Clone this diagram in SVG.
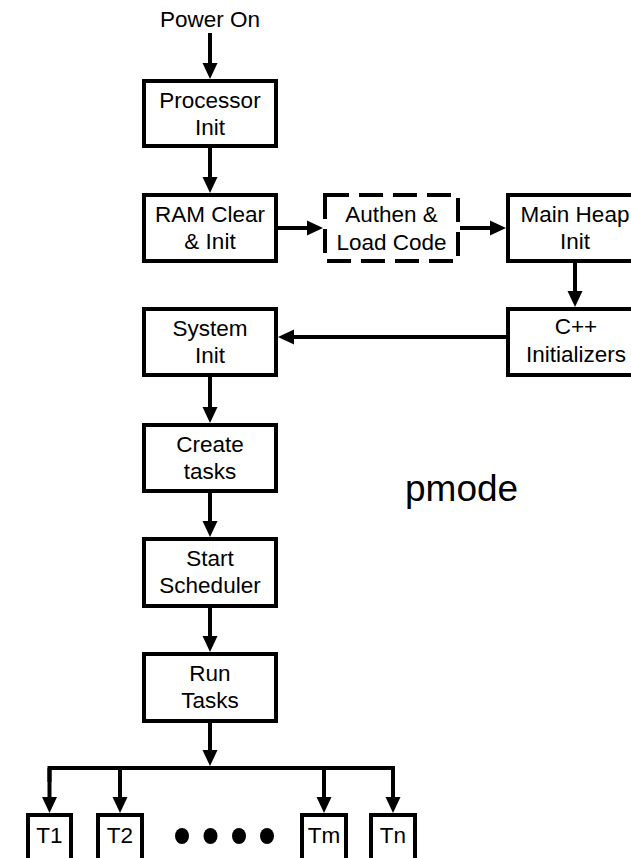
<svg xmlns="http://www.w3.org/2000/svg" width="631" height="858" viewBox="0 0 631 858">
  <style>
    .box { fill: #ffffff; stroke: #000000; stroke-width: 4; }
    .dash { fill: #ffffff; stroke: #000000; stroke-width: 4; stroke-dasharray: 24 10; }
    .lbl { font-family: "Liberation Sans", Arial, sans-serif; font-size: 22.5px; fill: #000000; text-anchor: middle; }
    .big { font-family: "Liberation Sans", Arial, sans-serif; font-size: 37px; fill: #000000; }
    .wire { fill: none; stroke: #000000; stroke-width: 4; }
    .arr { fill: none; stroke: #000000; stroke-width: 4; marker-end: url(#head); }
  </style>
  <defs>
    <!-- line ends 12px short of the tip; refX places the tip at that distance -->
    <marker id="head" markerUnits="userSpaceOnUse" markerWidth="18" markerHeight="16" viewBox="0 0 16 16" refX="4" refY="8" orient="auto">
      <path d="M0,0.5 L16,8 L0,15.5 Z" fill="#000000"/>
    </marker>
  </defs>
  <rect width="631" height="858" fill="#ffffff"/>

  <text class="lbl" x="210" y="27">Power On</text>

  <g id="connectors">
    <line class="arr" x1="210" y1="33" x2="210" y2="67"/>
    <line class="arr" x1="210" y1="148" x2="210" y2="181"/>
    <line class="arr" x1="278" y1="228" x2="311" y2="228"/>
    <line class="arr" x1="460" y1="228" x2="494" y2="228"/>
    <line class="arr" x1="575" y1="263" x2="575" y2="295"/>
    <line class="arr" x1="506" y1="337" x2="290" y2="337"/>
    <line class="arr" x1="210" y1="377" x2="210" y2="411"/>
    <line class="arr" x1="210" y1="493" x2="210" y2="525"/>
    <line class="arr" x1="210" y1="608" x2="210" y2="640"/>
    <line class="arr" x1="210" y1="723" x2="210" y2="754"/>
    <polyline class="wire" points="49.5,782 49.5,768 393,768 393,782"/>
    <line class="arr" x1="49.5" y1="768" x2="49.5" y2="801"/>
    <line class="arr" x1="120" y1="768" x2="120" y2="801"/>
    <line class="arr" x1="324" y1="768" x2="324" y2="801"/>
    <line class="arr" x1="393" y1="768" x2="393" y2="801"/>
  </g>

  <g id="processor-init">
    <rect class="box" x="144" y="81" width="132" height="65"/>
    <text class="lbl" x="210" y="108">Processor</text>
    <text class="lbl" x="210" y="135">Init</text>
  </g>
  <g id="ram-clear">
    <rect class="box" x="144" y="195" width="132" height="66"/>
    <text class="lbl" x="210" y="222">RAM Clear</text>
    <text class="lbl" x="210" y="249">&amp; Init</text>
  </g>
  <g id="authen-load">
    <rect class="dash" x="325" y="195" width="133" height="66"/>
    <text class="lbl" x="391.5" y="222">Authen &amp;</text>
    <text class="lbl" x="391.5" y="250">Load Code</text>
  </g>
  <g id="main-heap">
    <rect class="box" x="508" y="195" width="132" height="66"/>
    <text class="lbl" x="575" y="222">Main Heap</text>
    <text class="lbl" x="575" y="249">Init</text>
  </g>
  <g id="cpp-init">
    <rect class="box" x="508" y="309" width="132" height="66"/>
    <text class="lbl" x="576" y="334">C++</text>
    <text class="lbl" x="576" y="362">Initializers</text>
  </g>
  <g id="system-init">
    <rect class="box" x="144" y="309" width="132" height="66"/>
    <text class="lbl" x="210" y="336">System</text>
    <text class="lbl" x="210" y="363">Init</text>
  </g>
  <g id="create-tasks">
    <rect class="box" x="144" y="425" width="132" height="66"/>
    <text class="lbl" x="210" y="452">Create</text>
    <text class="lbl" x="210" y="479">tasks</text>
  </g>
  <g id="start-scheduler">
    <rect class="box" x="144" y="539" width="132" height="67"/>
    <text class="lbl" x="210" y="566">Start</text>
    <text class="lbl" x="210" y="593">Scheduler</text>
  </g>
  <g id="run-tasks">
    <rect class="box" x="144" y="654" width="132" height="67"/>
    <text class="lbl" x="210" y="681">Run</text>
    <text class="lbl" x="210" y="708">Tasks</text>
  </g>

  <g id="task-t1">
    <rect class="box" x="28" y="815" width="43" height="50"/>
    <text class="lbl" x="49.5" y="843">T1</text>
  </g>
  <g id="task-t2">
    <rect class="box" x="98" y="815" width="44" height="50"/>
    <text class="lbl" x="120" y="843">T2</text>
  </g>
  <g id="task-dots">
    <ellipse cx="182" cy="836" rx="7" ry="8"/>
    <ellipse cx="210.5" cy="836" rx="7" ry="8"/>
    <ellipse cx="239" cy="836" rx="7" ry="8"/>
    <ellipse cx="267" cy="836" rx="7" ry="8"/>
  </g>
  <g id="task-tm">
    <rect class="box" x="302" y="815" width="44" height="50"/>
    <text class="lbl" x="324" y="843">Tm</text>
  </g>
  <g id="task-tn">
    <rect class="box" x="371" y="815" width="44" height="50"/>
    <text class="lbl" x="393" y="843">Tn</text>
  </g>

  <text class="big" x="405" y="501">pmode</text>
</svg>
